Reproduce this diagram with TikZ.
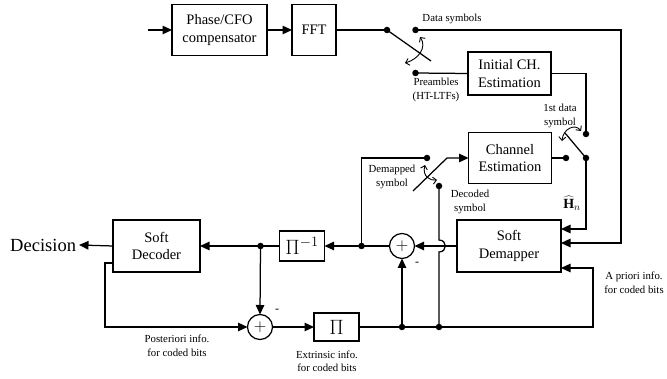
\documentclass[tikz,border=0pt]{standalone}
\usepackage{fontspec}
\setmainfont{Liberation Serif}
\usetikzlibrary{arrows.meta,calc}
\begin{document}
\begin{tikzpicture}[x=1pt,y=-1pt,
  line width=1.25pt,
  every node/.style={inner sep=0pt, outer sep=0pt},
  block/.style={draw, align=center, font=\fontsize{14.5}{17.5}\selectfont},
  pibox/.style={draw, font=\fontsize{22}{22}\selectfont},
  lbl/.style={align=center, font=\fontsize{10.8}{13.5}\selectfont},
  dot/.style={circle, fill, minimum size=6.5pt, inner sep=0pt},
  sumn/.style={draw, circle, minimum size=25pt, inner sep=0pt, font=\fontsize{16}{16}\selectfont},
  arr/.style={-{Triangle[length=9.5pt,width=8.5pt]}},
  sw/.style={<->, >={Straight Barb[length=3.5pt,width=7pt]}, line width=0.9pt},
]
\useasboundingbox (0,0) rectangle (667,379);

% blocks
\node[block, minimum width=95pt, minimum height=51pt] (pc) at (219.5,30) {Phase/CFO\\compensator};
\node[block, minimum width=44pt, minimum height=51pt] (fft) at (314,30) {FFT};
\node[block, minimum width=83pt, minimum height=43pt] (ini) at (509.5,73.5) {Initial CH.\\Estimation};
\node[block, minimum width=83pt, minimum height=51pt] (che) at (510,158) {Channel\\Estimation};
\node[block, minimum width=104pt, minimum height=52pt] (dem) at (509,246) {Soft\\Demapper};
\node[block, minimum width=87pt, minimum height=52pt] (dec) at (156.5,246) {Soft\\Decoder};
\node[pibox, minimum width=45pt, minimum height=30pt] (pinv) at (302,246) {$\Pi^{-1}$};
\node[pibox, minimum width=45pt, minimum height=28pt] (pi) at (336.5,327) {$\Pi$};
\node[sumn] (s1) at (402,246) {$+$};
\node[sumn] (s2) at (260,327) {$+$};
\node[font=\fontsize{18.5}{20}\selectfont, anchor=east, inner xsep=3pt] (decision) at (79,245) {Decision};

% dots
\node[dot] (p1) at (387,30) {};
\node[dot] (da) at (415.5,30) {};
\node[dot] (pr) at (415.5,73) {};
\node[dot] (t2) at (586,134) {};
\node[dot] (p2) at (586,158) {};
\node[dot] (l2) at (566,158) {};
\node[dot] (dm) at (427,158) {};
\node[dot] (dc) at (439,186) {};
\node[dot] (dL) at (361.5,246) {};
\node[dot] (dD) at (260.5,246) {};
\node[dot] (b1) at (402,327) {};
\node[dot] (b2) at (439,327) {};

% free coordinates
\coordinate (in) at (148,30);
\coordinate (bl1) at (431,61);
\coordinate (bl2) at (565,133);
\coordinate (bl3a) at (413,191);
\coordinate (bl3b) at (447,158);
\coordinate (rc) at (621,30);
\coordinate (ac) at (593,327);
\coordinate (fl) at (105,263);
\coordinate (hop1) at (439,240);
\coordinate (hop2) at (439,252);

% connectors
\draw[arr] (in) -- (pc.west);
\draw[arr] (pc.east) -- (fft.west);
\draw (fft.east) -- (p1.center);
\draw (p1.center) -- (bl1);
\draw[sw] (420,37) .. controls (427,47) and (419,59) .. (405,63);
\draw[arr] (da.center) -- (rc) |- ($(dem.east)+(0,-3)$);
\draw (pr.center) -- (ini.west);
\draw (ini.east) -| (t2.center);
\draw (che.east) -- (l2.center);
\draw (p2.center) -- (bl2);
\draw[sw] (581,131) .. controls (575,123) and (563,129) .. (562,141);
\draw[arr] (p2.center) |- ($(dem.east)+(0,-17)$);
\draw[arr] (pi.east) -- (b1.center) -- (b2.center) -- (ac) |- ($(dem.east)+(0,22)$);
\draw[arr] (dem.west) -- (s1.east);
\draw (s1.west) -- (dL.center);
\draw[arr] (dL.center) -- (pinv.east);
\draw (pinv.west) -- (dD.center);
\draw[arr] (dD.center) -- (dec.east);
\draw[arr] (dec.west) -- (decision.east);
\draw[arr] (dD.center) -- (s2.north);
\draw[arr] ($(dec.west)+(0,17)$) -- (fl) |- (s2.west);
\draw[arr] (s2.east) -- (pi.west);
\draw[arr] (b1.center) -- (s1.south);
\draw (dL.center) |- (dm.center);
\draw (dc.center) -- (hop1) .. controls (447.5,240) and (447.5,252) .. (hop2) -- (b2.center);
\draw[arr] (bl3a) -- (bl3b) -- (che.west);
\draw[sw] (425,165) .. controls (422,176) and (430,181) .. (437,180);

% labels
\node[lbl] (lds) at (452,19) {Data symbols};
\node[lbl] (lpr) at (436,90) {Preambles\\(HT-LTFs)};
\node[lbl] (l1st) at (560,116) {1st data\\symbol};
\node[lbl] (ldm) at (392,177) {Demapped\\symbol};
\node[lbl] (ldc) at (470,202) {Decoded\\symbol};
\node[lbl] (lap) at (634,283) {A priori info.\\for coded bits};
\node[lbl] (lpo) at (177,346) {Posteriori info.\\for coded bits};
\node[lbl] (lex) at (327,361.5) {Extrinsic info.\\for coded bits};
\node[font=\fontsize{14}{14}\selectfont] (lH) at (572,203) {$\widehat{\mathbf{H}}_{n}$};
\node[font=\fontsize{12}{12}\selectfont] (m1) at (417,264) {-};
\node[font=\fontsize{12}{12}\selectfont] (m2) at (277,311) {-};
\end{tikzpicture}
\end{document}
